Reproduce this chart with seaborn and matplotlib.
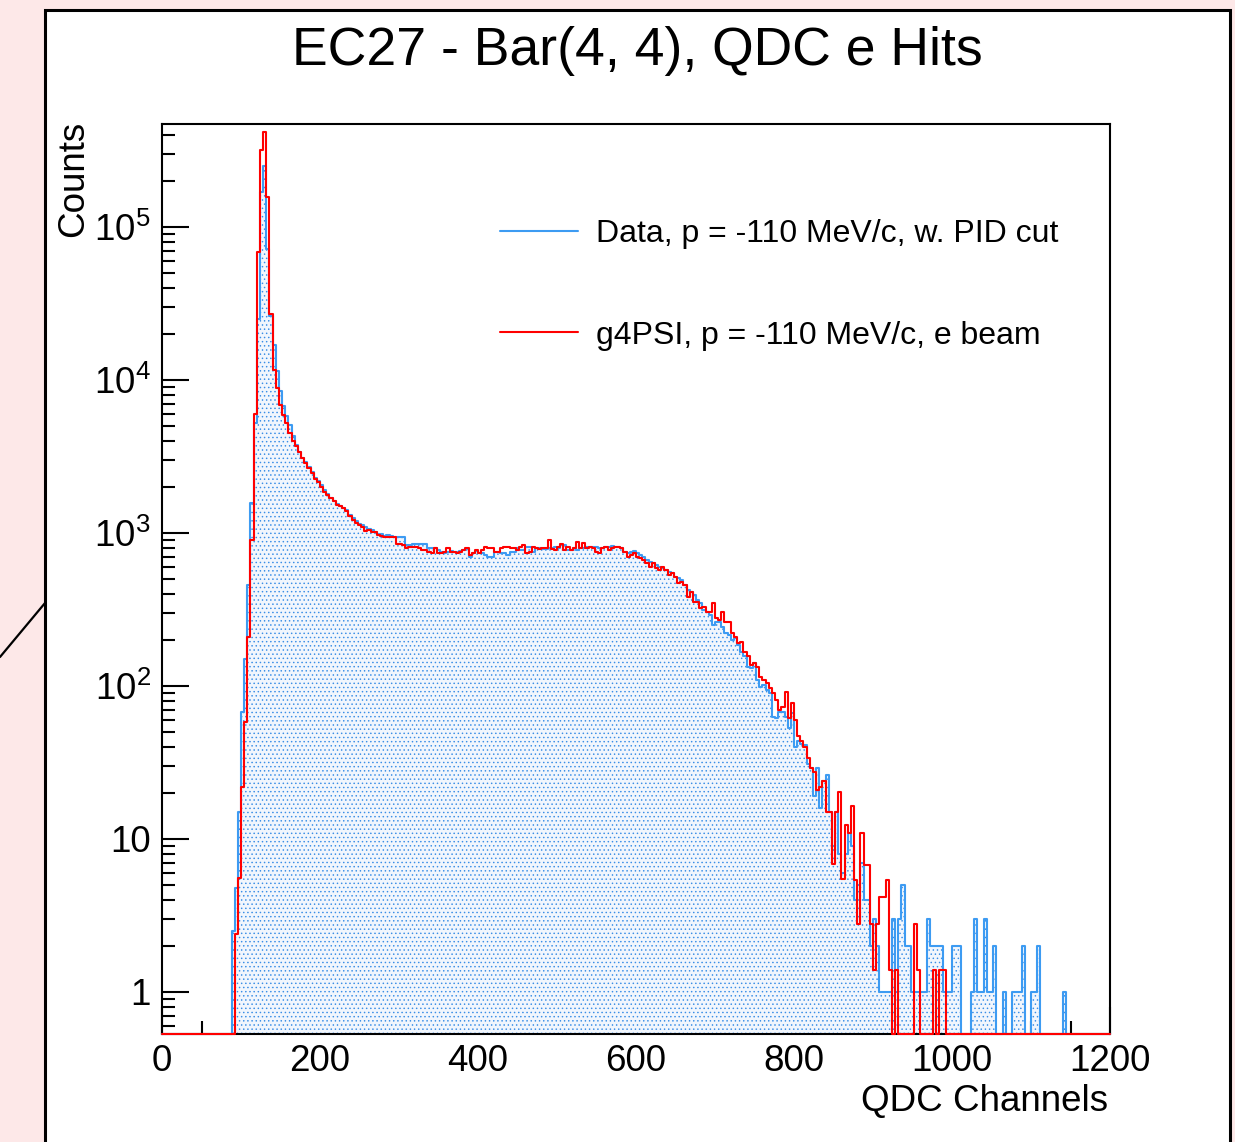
import numpy as np
import pandas as pd
import matplotlib
matplotlib.use("Agg")
import matplotlib.pyplot as plt
import seaborn as sns
from matplotlib.lines import Line2D
from matplotlib.patches import Rectangle
from matplotlib.ticker import FixedLocator, FixedFormatter, LogLocator, MultipleLocator, NullFormatter

# ---------------- data ----------------
bin_width = 4
x_min, x_max = 0, 1200

data_label = "Data, p = -110 MeV/c, w. PID cut"
data_first_bin = 22
data_counts = [
    2.5, 4.8, 15, 68, 150, 460, 1570, 5200,
    25000, 170000, 250000, 72000, 26000, 17000, 11500, 8500, 6800, 5800,
    5100, 4300, 3750, 3400, 3100, 2900, 2700, 2500, 2300, 2200,
    2050, 1900, 1800, 1700, 1620, 1540, 1500, 1450, 1420, 1320,
    1250, 1200, 1150, 1130, 1100, 1060, 1040, 1020, 990, 990,
    960, 975, 960, 946, 946, 946, 946, 835, 835, 850,
    848, 850, 848, 850, 794, 794, 794, 774, 755, 737,
    750, 760, 755, 750, 760, 774, 780, 700, 740, 760,
    737, 740, 720, 700, 700, 755, 755, 737, 737, 718,
    755, 755, 794, 774, 774, 814, 814, 755, 794, 794,
    782, 782, 794, 794, 814, 794, 835, 835, 774, 774,
    794, 774, 794, 794, 814, 814, 805, 805, 794, 794,
    814, 814, 820, 814, 814, 794, 755, 737, 755, 767,
    737, 718, 700, 666, 650, 634, 618, 603, 588, 573,
    559, 545, 518, 505, 493, 457, 424, 414, 394, 365,
    347, 314, 306, 291, 250, 263, 263, 244, 221, 215,
    200, 205, 185, 168, 156, 134, 131, 141, 109, 99,
    102, 94, 90, 63, 62, 68, 68, 63, 53, 67,
    40, 44, 42, 41, 31, 29, 19, 29, 16, 24,
    26, 15, 9, 15, 8, 6, 8, 11, 9, 4,
    5, 7, 4, 4, 2, 3, 2, 1, 1, 1,
    1, 3, 1, 3, 5, 2, 2, 1, 1, 1,
    1, 1, 3, 2, 2, 2, 2, 1, 1, 1,
    2, 2, 2, 0, 0, 0, 1, 3, 1, 1,
    3, 1, 1, 2, 0, 0, 1, 0, 0, 1,
    1, 1, 2, 0, 0, 1, 1, 2, 0, 0,
    0, 0, 0, 0, 0, 1,
]

sim_label = "g4PSI, p = -110 MeV/c, e beam"
sim_first_bin = 23
sim_counts = [
    2.4, 5.6, 22, 58, 210, 900, 6000,
    69000, 320000, 415000, 158000, 27000, 11600, 8900, 6900, 5900, 5200,
    4500, 4000, 3700, 3400, 3080, 2880, 2650, 2480, 2270, 2160,
    1990, 1860, 1780, 1690, 1620, 1525, 1490, 1450, 1400, 1290,
    1220, 1170, 1130, 1100, 1035, 1045, 1020, 1020, 970, 955,
    946, 946, 937, 937, 848, 848, 835, 794, 814, 814,
    814, 794, 774, 774, 755, 737, 794, 737, 737, 755,
    794, 755, 755, 737, 755, 774, 794, 718, 737, 774,
    737, 774, 814, 794, 794, 755, 755, 794, 805, 814,
    794, 794, 774, 814, 835, 737, 755, 814, 794, 782,
    794, 794, 900, 782, 774, 814, 850, 774, 814, 774,
    794, 877, 794, 857, 794, 814, 794, 755, 737, 794,
    814, 774, 794, 814, 814, 794, 755, 700, 718, 737,
    700, 683, 666, 634, 603, 634, 588, 573, 603, 573,
    531, 545, 518, 469, 481, 457, 384, 414, 356, 356,
    322, 330, 306, 306, 347, 277, 270, 306, 263, 263,
    221, 210, 190, 195, 168, 156, 137, 141, 134, 115,
    109, 104, 97, 90, 81, 70, 73, 92, 62, 77,
    60, 47, 44, 40, 34, 29, 27.5, 21, 22, 24,
    15, 15, 6.9, 15.1, 20.3, 5.5, 12.3, 10.9, 16.4, 5.4,
    2.8, 10.9, 6.8, 6.8, 2.8, 1.4, 2.8, 4.2, 4.2, 5.4,
    1.4, 0, 1.4, 0, 0, 0, 0, 0, 2.8, 1.4,
    0, 0, 0, 0, 1.4, 0, 1.4, 1.4,
]

title_text = "EC27 - Bar(4, 4), QDC e Hits"
x_label = "QDC Channels"
y_label = "Counts"
x_ticks = [0, 200, 400, 600, 800, 1000, 1200]
y_ticks = [1, 10, 100, 1000, 10000, 100000]
y_tick_labels = ["1", "10", "$10^{2}$", "$10^{3}$", "$10^{4}$", "$10^{5}$"]
y_lo, y_hi = 0.5314, 4.71e5

# ---------------- style ----------------
sns.set_theme(style="ticks")
plt.rcParams["font.family"] = ["Liberation Sans", "DejaVu Sans"]
plt.rcParams["mathtext.fontset"] = "custom"
plt.rcParams["mathtext.rm"] = "Liberation Sans"
plt.rcParams["mathtext.it"] = "Liberation Sans:italic"
plt.rcParams["mathtext.bf"] = "Liberation Sans:bold"
plt.rcParams["hatch.linewidth"] = 0.55
for key in ["text.color", "axes.labelcolor", "xtick.color", "ytick.color", "axes.edgecolor"]:
    plt.rcParams[key] = "black"

blue = "#3d9bf2"
hatch_blue = "#3a8ee6"
fill_tint = "#f1f6fd"
red = "#ff0000"

edges = np.arange(x_min, x_max + bin_width, bin_width)
centers = edges[:-1] + bin_width / 2.0
n_bins = len(centers)

def full_hist(first, counts):
    arr = np.zeros(n_bins)
    arr[first:first + len(counts)] = counts
    return arr

data_full = full_hist(data_first_bin, data_counts)
sim_full = full_hist(sim_first_bin, sim_counts)
# empty bins drawn on the axis floor, as ROOT does
df = pd.DataFrame({
    "channel": centers,
    "data": np.where(data_full > 0, data_full, y_lo),
    "sim": np.where(sim_full > 0, sim_full, y_lo),
})
hist_kw = dict(data=df, x="channel", binwidth=bin_width, binrange=(x_min, x_max),
               element="step")

fig = plt.figure(figsize=(12.35, 11.42), dpi=100, facecolor="#fde8e8")
W, H = 1235.0, 1142.0

frame = Rectangle((45 / W, -0.02), (1230 - 45) / W, 1 - 10 / H + 0.02,
                  transform=fig.transFigure, facecolor="white",
                  edgecolor="black", lw=2.2, zorder=-5)
fig.add_artist(frame)
fig.add_artist(Line2D([0, 45 / W], [1 - 657 / H, 1 - 603 / H],
                      transform=fig.transFigure, color="black", lw=1.6, zorder=-4))

ax = fig.add_axes([162 / W, (H - 1034) / H, 948 / W, 910 / H])
ax.set_facecolor("white")

# hatched fill under data
sns.histplot(weights="data", fill=True, facecolor=fill_tint, edgecolor=hatch_blue,
             hatch="....", linewidth=0, ax=ax, zorder=1, **hist_kw)
sns.histplot(weights="data", fill=False, color=blue, linewidth=1.5, ax=ax,
             zorder=3, clip_on=False, **hist_kw)
sns.histplot(weights="sim", fill=False, color=red, linewidth=1.5, ax=ax,
             zorder=4, clip_on=False, **hist_kw)

ax.set_yscale("log")
ax.set_xlim(x_min, x_max)
ax.set_ylim(y_lo, y_hi)

ax.xaxis.set_major_locator(FixedLocator(x_ticks))
ax.xaxis.set_minor_locator(MultipleLocator(50))
ax.yaxis.set_major_locator(FixedLocator(y_ticks))
ax.yaxis.set_major_formatter(FixedFormatter(y_tick_labels))
ax.yaxis.set_minor_locator(LogLocator(base=10, subs=np.arange(2, 10), numticks=30))
ax.yaxis.set_minor_formatter(NullFormatter())

ax.tick_params(axis="both", which="both", direction="in", top=False, right=False,
               colors="black", labelsize=26.5)
ax.tick_params(axis="both", which="major", length=19.5, width=1.5)
ax.tick_params(axis="both", which="minor", length=9.5, width=1.5)
ax.tick_params(axis="x", which="major", pad=7)
ax.tick_params(axis="y", which="major", pad=8)

for sp in ax.spines.values():
    sp.set_color("black")
    sp.set_linewidth(1.5)
    sp.set_zorder(2.5)

ax.set_xlabel(x_label, fontsize=26.5, loc="right", color="black")
ax.xaxis.set_label_coords(0.998, -0.0546)
ax.set_ylabel(y_label, fontsize=26.5, loc="top", color="black")
ax.yaxis.set_label_coords(-0.075, 1.004)

fig.text(637.5 / W, 1 - 65 / H, title_text, fontsize=38.5, ha="center",
         va="baseline", color="black")

handles = [Line2D([], [], color=blue, lw=1.5, label=data_label),
           Line2D([], [], color=red, lw=1.5, label=sim_label)]
leg = ax.legend(handles=handles, loc="upper left", bbox_to_anchor=(0.3565, 0.8955),
                frameon=False, fontsize=23, handlelength=2.45, handletextpad=0.56,
                labelspacing=2.24, borderpad=0, borderaxespad=0)
for t in leg.get_texts():
    t.set_color("black")

fig.savefig("out.png", dpi=100, facecolor=fig.get_facecolor())
